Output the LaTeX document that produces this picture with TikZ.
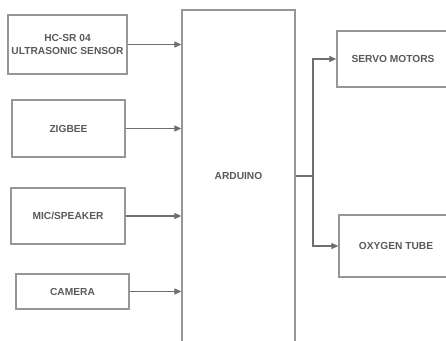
\documentclass[tikz,border=0pt]{standalone}
\usepackage{fontspec}
\setmainfont{Liberation Sans}
\usepackage{tikz}
\usetikzlibrary{positioning,calc}
\usetikzlibrary{arrows.meta}
\definecolor{BoxGray}{RGB}{150,150,150}
\definecolor{WireGray}{RGB}{110,110,110}
\definecolor{TextGray}{RGB}{90,90,90}
\tikzset{
	block/.style={draw=BoxGray,line width=1.3pt,fill=white,inner sep=2pt,align=center,
		font=\fontsize{10.2}{12.5}\selectfont\bfseries,text=TextGray},
	wire/.style={draw=WireGray,line width=1.1pt},
	feed/.style={wire,-{Triangle[length=7pt,width=6pt]}},
}

\begin{document}
\begin{tikzpicture}[x=1pt,y=-1pt]
					\useasboundingbox (0,0) rectangle (446,340);
					\clip (0,0) rectangle (446,340);
					% inputs
					\node[block,minimum width=119pt,minimum height=59pt] (sensor) at (67.5,44.5) {HC-SR 04\\ULTRASONIC SENSOR};
					\node[block,minimum width=113pt,minimum height=57pt] (zigbee) at (68.5,128.5) {ZIGBEE};
					\node[block,minimum width=114pt,minimum height=56pt] (mic) at (68,216) {MIC/SPEAKER};
					\node[block,minimum width=113pt,minimum height=35pt] (camera) at (72.5,291.5) {CAMERA};
					% controller, runs past the lower edge
					\node[block,minimum width=113pt,minimum height=332pt] (arduino) at (238.5,176) {ARDUINO};
					% outputs
					\node[block,minimum width=112pt,minimum height=56pt] (servo) at (393,59) {SERVO MOTORS};
					\node[block,minimum width=114pt,minimum height=62pt] (oxygen) at (396,246) {OXYGEN TUBE};
					\foreach \src in {sensor,zigbee,mic,camera}
					\draw[feed] (\src.east) -- (\src.east -| arduino.west);
					\coordinate (split) at (313,176);
					\draw[wire] (arduino.east |- split) -- (split);
					\draw[feed] (split) |- (servo.west);
					\draw[feed] (split) |- (oxygen.west);
				\end{tikzpicture}
\end{document}
